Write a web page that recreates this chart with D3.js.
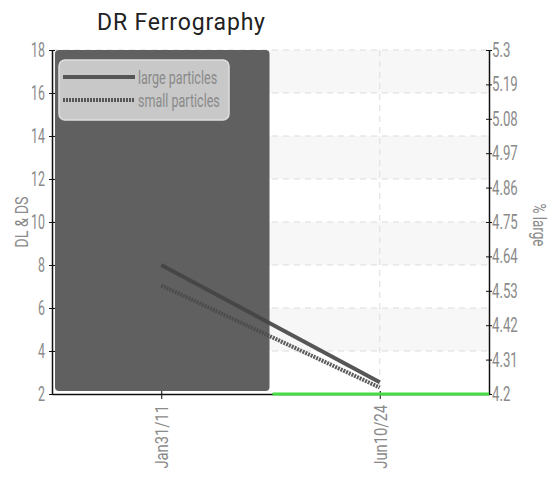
<!DOCTYPE html>
<html>
<head>
<meta charset="utf-8">
<script src="https://cdn.jsdelivr.net/npm/d3@7"></script>
<style>
  body { margin: 0; background: #fff; }
  text { font-family: Roboto, "DejaVu Sans", sans-serif; }
</style>
</head>
<body>
<div id="wrapper"></div>
<script>
const dates = ["Jan31/11", "Jun10/24"]
const largeParticles = [8, 2.55]
const smallParticles = [7.05, 2.3]
const rightTicks = [4.2, 4.31, 4.42, 4.53, 4.64, 4.75, 4.86, 4.97, 5.08, 5.19, 5.3]
const leftTicks = [2, 4, 6, 8, 10, 12, 14, 16, 18]
// status shown per sample: dark band or green bottom bar
const sampleStatus = ["dark", "green"]

let dimensions = {
  width: 551,
  height: 478,
  margin: { top: 50, right: 62, bottom: 84, left: 52 },
}
dimensions.boundedWidth = dimensions.width - dimensions.margin.left - dimensions.margin.right
dimensions.boundedHeight = dimensions.height - dimensions.margin.top - dimensions.margin.bottom

// squeeze text horizontally to mimic the narrow font of the original
function condense(sel, f) {
  sel.each(function() {
    const w = this.getComputedTextLength()
    this.setAttribute("textLength", w * f)
    this.setAttribute("lengthAdjust", "spacingAndGlyphs")
  })
}

const svg = d3.select("#wrapper")
  .append("svg")
    .attr("width", dimensions.width)
    .attr("height", dimensions.height)

const bounds = svg.append("g")
    .attr("transform", `translate(${dimensions.margin.left},${dimensions.margin.top})`)

// scales
const xScale = d3.scalePoint()
  .domain(dates)
  .range([0, dimensions.boundedWidth])
  .padding(0.5)
const step = xScale.step()

const yScale = d3.scaleLinear()
  .domain([2, 18])
  .range([dimensions.boundedHeight, 0])

const yRight = d3.scaleLinear()
  .domain([4.2, 5.3])
  .range([dimensions.boundedHeight, 0])

// alternating bands
const bandPairs = d3.pairs(leftTicks)
bounds.selectAll(".band")
    .data(bandPairs)
  .join("rect")
    .attr("x", 0)
    .attr("width", dimensions.boundedWidth)
    .attr("y", d => yScale(d[1]))
    .attr("height", d => yScale(d[0]) - yScale(d[1]))
    .attr("fill", (d, i) => i % 2 === 0 ? "#ffffff" : "#f7f7f7")

// grid
bounds.selectAll(".hgrid")
    .data(leftTicks.slice(1))
  .join("line")
    .attr("x1", 0)
    .attr("x2", dimensions.boundedWidth)
    .attr("y1", d => yScale(d))
    .attr("y2", d => yScale(d))
    .attr("stroke", "#dcdcdc")
    .attr("stroke-dasharray", "6,5")

bounds.selectAll(".vgrid")
    .data(dates)
  .join("line")
    .attr("x1", d => xScale(d))
    .attr("x2", d => xScale(d))
    .attr("y1", 0)
    .attr("y2", dimensions.boundedHeight)
    .attr("stroke", "#dcdcdc")
    .attr("stroke-dasharray", "6,5")

// status bands
const statusData = dates.map((d, i) => ({ date: d, status: sampleStatus[i] }))
bounds.selectAll(".darkband")
    .data(statusData.filter(d => d.status === "dark"))
  .join("rect")
    .attr("x", d => xScale(d.date) - step / 2 + 3)
    .attr("y", 0)
    .attr("width", step - 4)
    .attr("height", dimensions.boundedHeight - 3)
    .attr("rx", 4)
    .attr("fill", "#606060")

// lines
const lineGen = vals => d3.line()
  .x((d, i) => xScale(dates[i]))
  .y(d => yScale(d))(vals)

bounds.append("path")
    .attr("d", lineGen(largeParticles))
    .attr("fill", "none")
    .attr("stroke", "#444")
    .attr("stroke-opacity", 0.9)
    .attr("stroke-width", 4)

bounds.append("path")
    .attr("d", lineGen(smallParticles))
    .attr("fill", "none")
    .attr("stroke", "#4a4a4a")
    .attr("stroke-opacity", 0.9)
    .attr("stroke-width", 4)
    .attr("stroke-dasharray", "2,1")

// axes
const tickColor = "#8a8a8a"
const yAxis = bounds.append("g")
  .call(d3.axisLeft(yScale).tickValues(leftTicks).tickSize(3).tickSizeOuter(0))
yAxis.selectAll(".tick line").attr("x2", 3).attr("x1", -3).attr("stroke", "#111")
yAxis.select(".domain").attr("stroke", "#111").attr("stroke-width", 1.5)
yAxis.selectAll("text")
    .attr("fill", tickColor)
    .style("font-size", "20px")
    .attr("x", -7)
    .call(condense, 0.62)

const yAxisR = bounds.append("g")
    .attr("transform", `translate(${dimensions.boundedWidth},0)`)
  .call(d3.axisRight(yRight).tickValues(rightTicks).tickFormat(d => d3.format("~g")(d)).tickSize(3).tickSizeOuter(0))
yAxisR.selectAll(".tick line").attr("x1", -3).attr("x2", 3).attr("stroke", "#111")
yAxisR.select(".domain").attr("stroke", "#111").attr("stroke-width", 1.5)
yAxisR.selectAll("text")
    .attr("fill", tickColor)
    .style("font-size", "20px")
    .attr("x", 3)
    .call(condense, 0.66)

const xAxis = bounds.append("g")
    .attr("transform", `translate(0,${dimensions.boundedHeight})`)
  .call(d3.axisBottom(xScale).tickSize(5).tickSizeOuter(0))
xAxis.select(".domain").attr("stroke", "#111").attr("stroke-width", 1.5)
xAxis.selectAll(".tick line").attr("y1", -3).attr("y2", 5).attr("stroke", "#111")
xAxis.selectAll("text")
    .attr("fill", tickColor)
    .style("font-size", "18px")
    .attr("text-anchor", "end")
    .attr("transform", "rotate(-90)")
    .attr("x", -11)
    .attr("y", 0)
    .attr("dy", "0.35em")
    .call(condense, 0.82)

// green status bar at bottom
bounds.selectAll(".greenbar")
    .data(statusData.filter(d => d.status === "green"))
  .join("line")
    .attr("x1", d => xScale(d.date) - step / 2 + 2)
    .attr("x2", d => Math.min(xScale(d.date) + step / 2, dimensions.boundedWidth))
    .attr("y1", dimensions.boundedHeight)
    .attr("y2", dimensions.boundedHeight)
    .attr("stroke", "#44dd44")
    .attr("stroke-width", 3)

// axis labels
svg.append("text")
    .attr("transform", `translate(28,${dimensions.margin.top + dimensions.boundedHeight / 2}) rotate(-90)`)
    .attr("text-anchor", "middle")
    .attr("fill", tickColor)
    .style("font-size", "18px")
    .text("DL & DS")
    .call(condense, 0.8)

svg.append("text")
    .attr("transform", `translate(533,${dimensions.margin.top + dimensions.boundedHeight / 2 + 3}) rotate(90)`)
    .attr("text-anchor", "middle")
    .attr("fill", tickColor)
    .style("font-size", "18px")
    .text("% large")
    .call(condense, 0.75)

// title
svg.append("text")
    .attr("x", 181)
    .attr("y", 30)
    .attr("text-anchor", "middle")
    .attr("fill", "#222")
    .style("font-size", "23px")
    .attr("textLength", 168)
    .text("DR Ferrography")

// legend
const legendItems = [
  { name: "large particles", dash: null },
  { name: "small particles", dash: "2,1" },
]
const legend = bounds.append("g")
    .attr("transform", "translate(7,10)")
legend.append("rect")
    .attr("width", 170)
    .attr("height", 60)
    .attr("rx", 6)
    .attr("fill", "#c8c8c8")
    .attr("stroke", "#dedede")
    .attr("stroke-width", 1.5)
const legendRow = legend.selectAll(".row")
    .data(legendItems)
  .join("g")
    .attr("transform", (d, i) => `translate(4,${17 + i * 23})`)
legendRow.append("line")
    .attr("x1", 0)
    .attr("x2", 72)
    .attr("stroke", "#555")
    .attr("stroke-width", 4)
    .attr("stroke-dasharray", d => d.dash)
legendRow.append("text")
    .attr("x", 75)
    .attr("dy", "0.35em")
    .attr("fill", tickColor)
    .style("font-size", "19px")
    .text(d => d.name)
    .call(condense, 0.66)
</script>
</body>
</html>
